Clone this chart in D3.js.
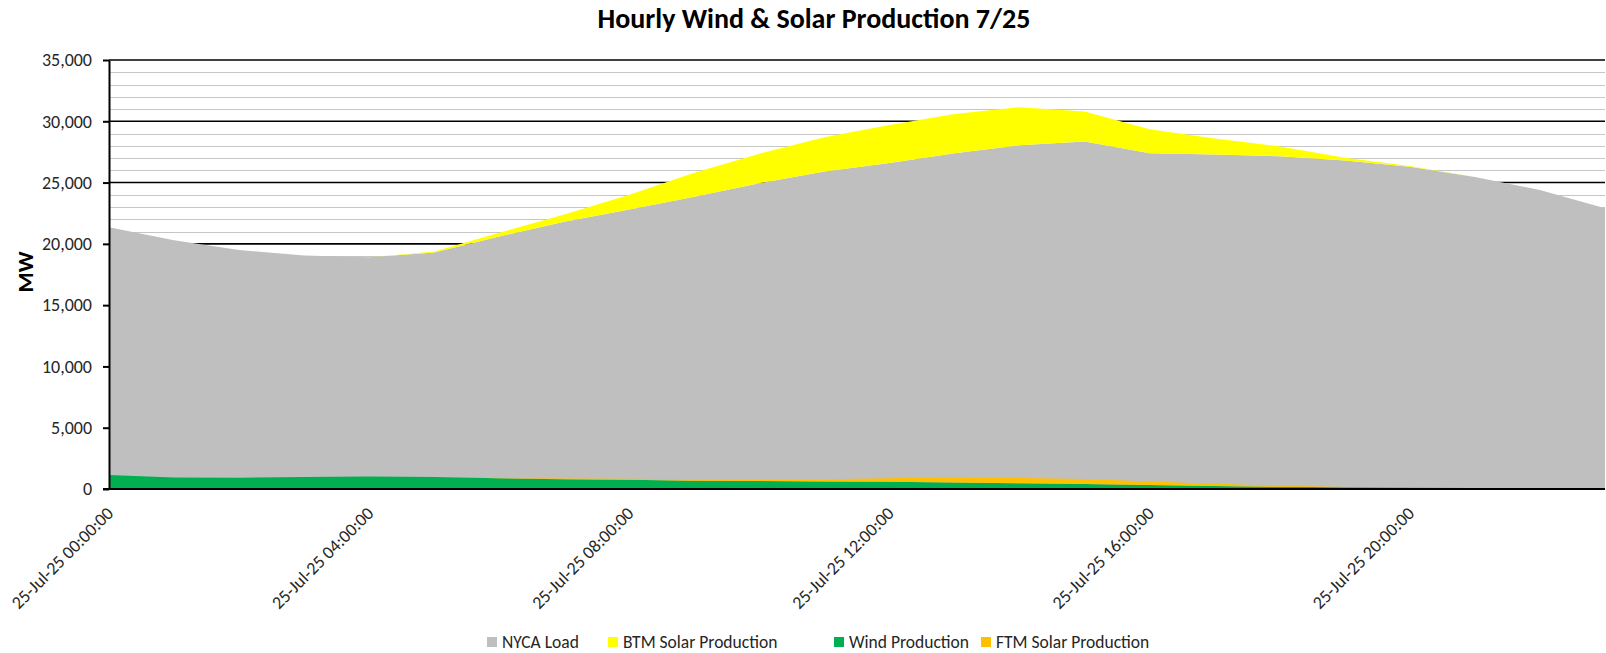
<!DOCTYPE html>
<html>
<head>
<meta charset="utf-8">
<script src="https://cdn.jsdelivr.net/npm/d3@7"></script>
<style>
  body { margin: 0; background: #fff; }
  svg { display: block; font-family: Carlito, Calibri, Lato, sans-serif; }
</style>
</head>
<body>
<div id="chart"></div>
<script>
// horas do dia (categorias)
const hours = [0, 1, 2, 3, 4, 5, 6, 7, 8, 9, 10, 11, 12, 13, 14, 15, 16, 17, 18, 19, 20, 21, 22, 23];
const tickHours = [0, 4, 8, 12, 16, 20];
const tickLabels = ["25-Jul-25 00:00:00", "25-Jul-25 04:00:00", "25-Jul-25 08:00:00",
                    "25-Jul-25 12:00:00", "25-Jul-25 16:00:00", "25-Jul-25 20:00:00"];

// séries (MW)
const nycaLoad = [21350, 20300, 19500, 19050, 18900, 19300, 20600, 21800, 22800, 23850, 24950, 25900,
                  26600, 27400, 28050, 28350, 27400, 27300, 27150, 26800, 26300, 25450, 24400, 22900];
const btmSolar = [0, 0, 0, 0, 0, 80, 300, 600, 1200, 1950, 2400, 2800,
                  3100, 3200, 3100, 2450, 1950, 1300, 800, 220, 50, 0, 0, 0];
const windProd = [1150, 930, 920, 980, 1030, 980, 870, 800, 750, 680, 650, 620,
                  600, 540, 460, 400, 320, 250, 180, 140, 110, 90, 60, 40];
const ftmSolar = [0, 0, 0, 0, 0, 0, 20, 50, 90, 110, 120, 170,
                  270, 440, 440, 420, 300, 170, 80, 25, 0, 0, 0, 0];

const seriesNames = ["NYCA Load", "BTM Solar Production", "Wind Production", "FTM Solar Production"];
const seriesColors = ["#BFBFBF", "#FFFF00", "#00B050", "#FFC000"];

const W = 1606, H = 653;
const margin = { top: 60, right: 1, bottom: 164, left: 109 };
const width = W - margin.left - margin.right;
const height = H - margin.top - margin.bottom;

const svg = d3.select("#chart").append("svg")
  .attr("width", W)
  .attr("height", H);

const g = svg.append("g")
  .attr("transform", `translate(${margin.left},${margin.top})`);

const x = d3.scaleLinear().domain([0, 23]).range([0, width]);
const y = d3.scaleLinear().domain([0, 35000]).range([height, 0]);

// grade secundária (1000) e principal (5000)
const minor = d3.range(1000, 35000, 1000).filter(v => v % 5000 !== 0);
g.append("g").selectAll("line").data(minor).join("line")
  .attr("x1", 0).attr("x2", width)
  .attr("y1", d => Math.round(y(d)) + 0.5).attr("y2", d => Math.round(y(d)) + 0.5)
  .attr("stroke", "#c6c6c6").attr("stroke-width", 1);

g.append("g").selectAll("line").data(d3.range(5000, 35001, 5000)).join("line")
  .attr("x1", 0).attr("x2", width)
  .attr("y1", d => y(d)).attr("y2", d => y(d))
  .attr("stroke", "#000").attr("stroke-width", 1.6);

// pilhas: carga + BTM, vento + FTM
const rows = hours.map((h, i) => ({ h, load: nycaLoad[i], btm: btmSolar[i], wind: windProd[i], ftm: ftmSolar[i] }));
const stackA = d3.stack().keys(["load", "btm"])(rows);
const stackB = d3.stack().keys(["wind", "ftm"])(rows);

const area = d3.area()
  .x(d => x(d.data.h))
  .y0(d => y(d[0]))
  .y1(d => y(d[1]));

g.append("g").selectAll("path").data(stackA).join("path")
  .attr("fill", (d, i) => seriesColors[i])
  .attr("d", area);

g.append("g").selectAll("path").data(stackB).join("path")
  .attr("fill", (d, i) => seriesColors[i + 2])
  .attr("d", area);

// eixo y
const yAxis = g.append("g")
  .call(d3.axisLeft(y)
    .tickValues(d3.range(0, 35001, 5000))
    .tickFormat(d3.format(","))
    .tickSize(6)
    .tickSizeOuter(0));
yAxis.select(".domain").attr("stroke", "#000").attr("stroke-width", 2);
yAxis.selectAll(".tick line").attr("stroke", "#000").attr("stroke-width", 2);
yAxis.selectAll(".tick text")
  .attr("x", -17)
  .style("font-size", "18px")
  .style("font-family", "Carlito, Calibri, Lato, sans-serif")
  .attr("fill", "#262626");

// eixo x
g.append("line")
  .attr("x1", -6).attr("x2", width)
  .attr("y1", height).attr("y2", height)
  .attr("stroke", "#000").attr("stroke-width", 2);

g.append("g").selectAll("text").data(tickHours).join("text")
  .attr("transform", d => `translate(${x(d) + 1},${height + 21}) rotate(-45)`)
  .attr("text-anchor", "end")
  .attr("dy", "0.35em")
  .style("font-size", "18px")
  .attr("fill", "#262626")
  .text((d, i) => tickLabels[i]);

// título do eixo y
svg.append("text")
  .attr("transform", `translate(33,${272}) rotate(-90)`)
  .attr("text-anchor", "middle")
  .style("font-size", "23px")
  .style("font-weight", "bold")
  .text("MW");

// título
svg.append("text")
  .attr("x", 814)
  .attr("y", 28)
  .attr("text-anchor", "middle")
  .style("font-size", "28px")
  .style("font-weight", "bold")
  .text("Hourly Wind & Solar Production 7/25");

// legenda
const legendX = [487, 608, 834, 981];
const legend = svg.append("g").selectAll("g").data(seriesNames).join("g")
  .attr("transform", (d, i) => `translate(${legendX[i]},642)`);
legend.append("rect")
  .attr("x", 0).attr("y", -5)
  .attr("width", 10).attr("height", 10)
  .attr("fill", (d, i) => seriesColors[i]);
legend.append("text")
  .attr("x", 15)
  .attr("dy", "0.35em")
  .style("font-size", "17.5px")
  .attr("fill", "#262626")
  .text(d => d);
</script>
</body>
</html>
